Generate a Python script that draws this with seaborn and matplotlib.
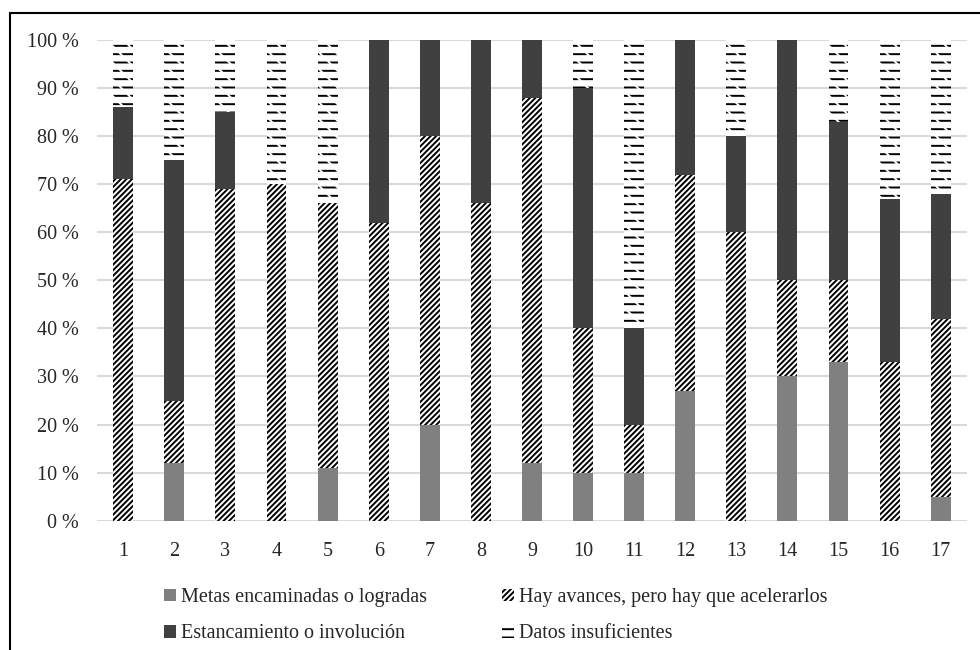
import matplotlib
matplotlib.use("Agg")
import matplotlib.pyplot as plt
from matplotlib.patches import Patch
from matplotlib.lines import Line2D
import numpy as np
import seaborn as sns

# objetivos 1..17, share of targets per status (%)
objetivos = [str(i) for i in range(1, 18)]
metas = [0, 12, 0, 0, 11, 0, 20, 0, 12, 10, 10, 27, 0, 30, 33, 0, 5]
avances = [71, 13, 69, 70, 55, 62, 60, 66, 76, 30, 10, 45, 60, 20, 17, 33, 37]
estancamiento = [15, 50, 16, 0, 0, 38, 20, 34, 12, 50, 20, 28, 20, 50, 33, 34, 26]
datos = [14, 25, 15, 30, 34, 0, 0, 0, 0, 10, 60, 0, 20, 0, 17, 33, 32]

labels = [
    "Metas encaminadas o logradas",
    "Hay avances, pero hay que acelerarlos",
    "Estancamiento o involución",
    "Datos insuficientes",
]

sns.set_style("white")
plt.rcParams["font.family"] = ["Liberation Serif", "DejaVu Serif"]
plt.rcParams["hatch.linewidth"] = 1.4

fig = plt.figure(figsize=(9.8, 6.5), dpi=100)
ax = fig.add_axes([96.7 / 980, 1 - 520.7 / 650, 870 / 980, 480.7 / 650])

m = np.array(metas)
a = m + np.array(avances)
e = a + np.array(estancamiento)
d = e + np.array(datos)

W = 0.39


def layer(values, face, hatch=None, edge="black"):
    n = len(ax.patches)
    sns.barplot(x=objetivos, y=values, order=objetivos, color=face,
                saturation=1, width=W, ax=ax, zorder=3)
    for p in ax.patches[n:]:
        p.set_facecolor(face)
        p.set_edgecolor(edge)
        p.set_linewidth(0)
        if hatch:
            p.set_hatch(hatch)


# draw from the top of the stack down, each layer covers the one below
layer(d, "white", "--")
layer(d, "none", "\\\\", edge="white")  # break the lines into dashes
layer(e, "#404040")
layer(a, "white", "//////")
layer(m, "#808080")

ax.set_xlim(-0.52, 16.51)
ax.set_ylim(0, 100)
ax.set_yticks(range(0, 101, 10))
ax.set_yticklabels([f"{v} %" for v in range(0, 101, 10)])
ax.yaxis.grid(True, color="#d9d9d9", linewidth=1.5, zorder=0)
ax.set_axisbelow(True)
for s in ax.spines.values():
    s.set_visible(False)
ax.tick_params(axis="both", length=0, labelsize=14.5, colors="#262626")
ax.tick_params(axis="y", pad=13)
ax.tick_params(axis="x", pad=15)
ax.set_xlabel("")
ax.set_ylabel("")

handles = [
    Patch(facecolor="#808080", edgecolor="#808080", linewidth=0),
    Patch(facecolor="#404040", edgecolor="#404040", linewidth=0),
    Patch(facecolor="white", edgecolor="black", hatch="//////", linewidth=0),
    Patch(facecolor="white", edgecolor="black", hatch="--", linewidth=0),
]
leg_labels = [labels[0], labels[2], labels[1], labels[3]]
fig.legend(handles, leg_labels, ncol=2, loc="upper left",
           bbox_to_anchor=(146 / 980, 1 - 570 / 650), frameon=False,
           fontsize=14.5, handlelength=0.6, handleheight=0.6,
           handletextpad=0.25, columnspacing=3.7, labelspacing=0.85)

# outer frame (top and left edges only)
fig.add_artist(Line2D([10 / 980, 1], [1 - 13 / 650, 1 - 13 / 650],
                      transform=fig.transFigure, color="black", lw=1.5))
fig.add_artist(Line2D([10 / 980, 10 / 980], [0, 1 - 13 / 650],
                      transform=fig.transFigure, color="black", lw=1.5))

fig.savefig("out.png", dpi=100, facecolor="white")
